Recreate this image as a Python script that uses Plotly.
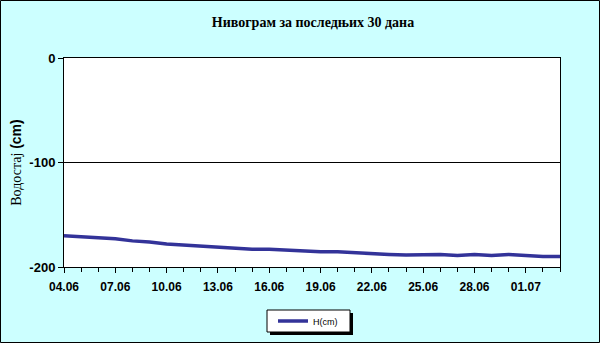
import plotly.graph_objects as go
import pandas as pd

dates = pd.date_range("2024-06-04", "2024-07-03", freq="D")
levels = [-170, -171, -172, -173, -175, -176, -178, -179, -180, -181,
          -182, -183, -183, -184, -185, -185.5, -185.5, -186.5, -187, -188,
          -188.5, -188, -188, -189, -188, -189, -188, -189, -190, -190]
series_name = "H(cm)"
title_text = "Нивограм за последњих 30 дана"
y_ticks = [0, -100, -200]
y_ticktext = ["0", "-100", "-200"]

W, H = 600, 343
L, R, T, B = 64, 40, 58, 76
pw, ph = W - L - R, H - T - B

def px(x):
    return (x - L) / pw

def py(y):
    return (H - B - y) / ph

fig = go.Figure()
fig.add_trace(go.Scatter(x=dates, y=levels, mode="lines", name=series_name,
                         line=dict(color="#333399", width=3.5)))

shapes = [
    dict(type="rect", xref="paper", yref="paper", x0=px(0.5), x1=px(599.5), y0=py(342.5), y1=py(0.5),
         line=dict(color="black", width=1), layer="below"),
    # legend shadow
    dict(type="rect", xref="paper", yref="paper", x0=px(270), x1=px(353), y0=py(335), y1=py(313),
         fillcolor="black", line=dict(width=0), layer="below"),
    # legend box
    dict(type="rect", xref="paper", yref="paper", x0=px(267), x1=px(350), y0=py(332), y1=py(310),
         fillcolor="white", line=dict(color="black", width=1), layer="below"),
]
fig.update_layout(
    width=W, height=H,
    margin=dict(l=L, r=R, t=T, b=B, autoexpand=False),
    paper_bgcolor="#CCFFFF", plot_bgcolor="white",
    shapes=shapes,
    title=dict(text="<b>" + title_text + "</b>", x=px(313), xanchor="center", xref="paper",
               y=1 - 22 / H, yanchor="middle",
               font=dict(family="Liberation Serif", size=14, color="black")),
    showlegend=True,
    legend=dict(x=px(273), y=py(321), xanchor="left", yanchor="middle", xref="paper", yref="paper",
                bgcolor="rgba(0,0,0,0)", borderwidth=0,
                font=dict(family="Liberation Sans", size=9, color="black"),
                itemwidth=30),
)
fig.update_xaxes(
    range=[dates[0], dates[-1]], tickformat="%d.%m", dtick=3 * 86400000, tick0=dates[0],
    ticks="outside", ticklen=5, tickcolor="black", showgrid=False,
    minor=dict(dtick=86400000, ticks="outside", ticklen=4, tickcolor="black", showgrid=False),
    showline=True, linecolor="black", mirror=True,
    tickfont=dict(family="Liberation Sans", size=12, color="black", weight="bold"),
    ticklabelstandoff=4,
    zeroline=False,
)
fig.update_yaxes(
    range=[-200, 0], tickvals=y_ticks, ticktext=y_ticktext, ticks="outside", ticklen=5, tickcolor="black",
    showgrid=True, gridcolor="black", gridwidth=1,
    showline=True, linecolor="black", mirror=True, zeroline=False,
    tickfont=dict(family="Liberation Sans", size=13, color="black", weight="bold"),
    title=dict(text="<span style='font-family:Liberation Serif'>Водостај</span> <b>(cm)</b>",
               font=dict(family="Liberation Sans", size=14, color="black"), standoff=4),
)
fig.write_html("out.html")
